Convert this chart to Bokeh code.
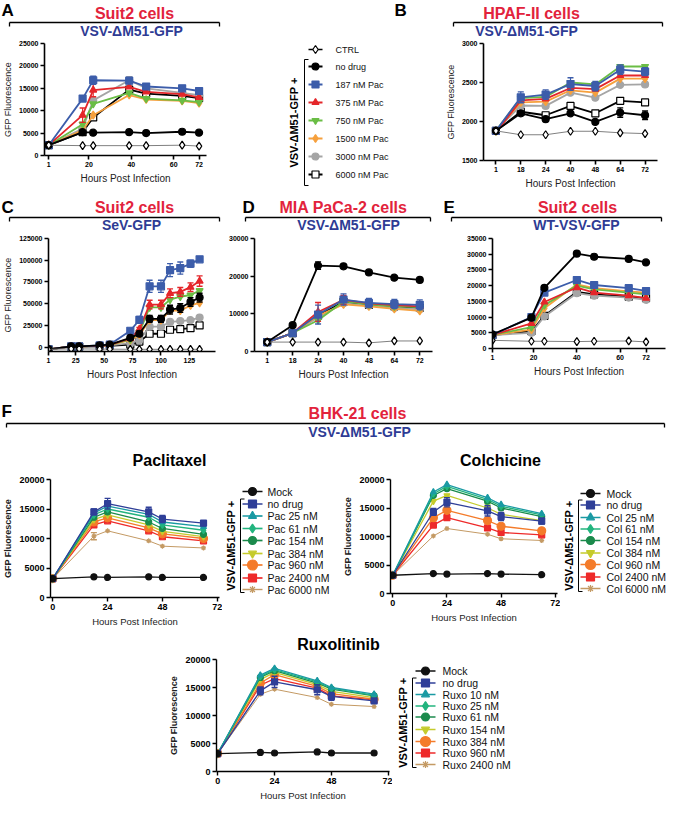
import math
from bokeh.plotting import figure
from bokeh.models import Range1d, FactorRange, FixedTicker, PrintfTickFormatter, Spacer
from bokeh.layouts import row, column
from bokeh.core.properties import value
from bokeh.embed import file_html
from bokeh.resources import INLINE

FONT = "Liberation Sans"
RED = "#E2233C"
BLUE = "#2E3B94"

# ---------------- data ----------------
# Panel A: Suit2 cells, VSV-dM51-GFP
A_HOURS = [1, 17, 22, 39, 47, 64, 72]
A_CTRL = [2300, 2200, 2200, 2200, 2200, 2300, 2100]
A_NODRUG = [2300, 5200, 5100, 5200, 5000, 5300, 5100]
A_P187 = [2300, 12700, 16800, 16700, 15400, 15000, 14400]
A_P375 = [2300, 9000, 14600, 15300, 14200, 13700, 13000]
A_P750 = [2300, 7000, 11500, 14000, 12700, 12300, 11900]
A_P1500 = [2300, 5600, 9000, 13500, 12500, 12200, 11700]
A_P3000 = [2300, 6000, 12300, 16800, 15000, 14000, 13500]
A_P6000 = [2300, 5200, 8500, 14700, 13800, 13300, 12800]
A_ERR_P187 = [0, 0, 900, 600, 400, 0, 0]
A_ERR_P375 = [0, 1600, 1500, 0, 0, 0, 0]
A_ERR_P3000 = [0, 0, 0, 800, 0, 0, 0]

# Panel B: HPAF-II cells, VSV-dM51-GFP
B_HOURS = ["1", "18", "24", "40", "48", "64", "72"]
B_CTRL = [1880, 1830, 1830, 1875, 1875, 1855, 1845]
B_NODRUG = [1880, 2105, 2030, 2105, 1995, 2115, 2080]
B_P187 = [1880, 2310, 2345, 2480, 2455, 2665, 2640]
B_P375 = [1860, 2270, 2290, 2430, 2415, 2590, 2590]
B_P750 = [1880, 2300, 2315, 2500, 2475, 2705, 2705]
B_P1500 = [1875, 2245, 2255, 2400, 2370, 2550, 2550]
B_P3000 = [1880, 2205, 2200, 2370, 2305, 2470, 2475]
B_P6000 = [1880, 2125, 2080, 2200, 2105, 2265, 2245]
B_ERR_P187 = [0, 70, 60, 80, 60, 60, 50]
B_ERR_NODRUG = [0, 0, 0, 0, 0, 60, 55]

# Panel C: Suit2 cells, SeV-GFP
C_HOURS = [1, 21, 28, 46, 55, 73, 81, 90, 100, 108, 117, 126, 134]
C_CTRL = [-2500, -2000, -2000, -2200, -2300, -2500, -2500, -2500, -2500, -2500, -2500, -2500, -2500]
C_NODRUG = [-2500, 1000, 1000, 2000, 2800, 10700, 15400, 32500, 32500, 43200, 45000, 52000, 57000]
C_P187 = [-2500, 800, 800, 2000, 3000, 18900, 31400, 70000, 70000, 88600, 91000, 96000, 101000]
C_P375 = [-2500, 800, 800, 1500, 2500, 10000, 20700, 49000, 49000, 62000, 63600, 69000, 76000]
C_P750 = [-2500, 800, 800, 1500, 2500, 9000, 17000, 45700, 45700, 54600, 58000, 60000, 65000]
C_P1500 = [-2500, 800, 800, 1500, 2500, 8000, 14000, 31000, 31000, 42000, 42000, 48000, 51000]
C_P3000 = [-2500, 500, 500, 1000, 2000, 4600, 8000, 23600, 23600, 29000, 30000, 31000, 34000]
C_P6000 = [-2500, 500, 500, 1000, 1500, 3000, 6400, 15400, 15400, 20000, 20700, 21800, 25000]
C_ERR_P187 = [0, 0, 0, 0, 0, 2500, 4000, 7000, 7000, 7500, 7000, 4000, 0]
C_ERR_P375 = [0, 0, 0, 0, 0, 0, 2000, 5000, 5000, 5000, 5000, 5000, 6000]
C_ERR_NODRUG = [0, 0, 0, 0, 0, 0, 3000, 4000, 4000, 5000, 5000, 5000, 5000]

# Panel D: MIA PaCa-2 cells, VSV-dM51-GFP
D_HOURS = ["1", "18", "24", "40", "48", "64", "72"]
D_CTRL = [2500, 2500, 2500, 2500, 2300, 2800, 2800]
D_NODRUG = [2500, 7000, 22800, 22600, 21000, 19600, 19000]
D_P187 = [2500, 4900, 9800, 13800, 12900, 12600, 12400]
D_P375 = [2500, 4900, 10500, 13700, 12800, 12300, 12000]
D_P750 = [2500, 4900, 8300, 13300, 12500, 12000, 11800]
D_P1500 = [2500, 4900, 9500, 12500, 12000, 11300, 10800]
D_P3000 = [2500, 4900, 9000, 12800, 12200, 11600, 11200]
D_P6000 = [2500, 4900, 9500, 13200, 12400, 12000, 11600]
D_ERR_NODRUG = [0, 0, 1000, 0, 0, 0, 0]
D_ERR_P187 = [0, 0, 2500, 1500, 1200, 1200, 1300]
D_ERR_P375 = [0, 0, 2500, 1200, 0, 0, 0]

# Panel E: Suit2 cells, WT-VSV-GFP
E_HOURS = [1, 19, 25, 40, 48, 64, 72]
E_CTRL = [2600, 2300, 2300, 2200, 2300, 2400, 2100]
E_NODRUG = [4500, 9800, 19300, 30200, 29200, 28500, 27400]
E_P187 = [4300, 10000, 17800, 21800, 20200, 19200, 18300]
E_P375 = [4300, 8000, 14800, 19400, 17800, 16800, 16000]
E_P750 = [4300, 6800, 13800, 20000, 18800, 17800, 17200]
E_P1500 = [4300, 6000, 12800, 20400, 19200, 18200, 17800]
E_P3000 = [4300, 5000, 10200, 17600, 16800, 16200, 15500]
E_P6000 = [4300, 5500, 10400, 18000, 17200, 16500, 16000]

TOP_LABELS = ["CTRL", "no drug", "187 nM Pac", "375 nM Pac", "750 nM Pac",
              "1500 nM Pac", "3000 nM Pac", "6000 nM Pac"]

# Panel F: BHK-21 cells, VSV-dM51-GFP
F_HOURS = [0, 18, 24, 42, 48, 66]
PAC_MOCK = [3200, 3500, 3400, 3500, 3400, 3400]
PAC_NODRUG = [3200, 14500, 15900, 14500, 13300, 12600]
PAC_25 = [3200, 14300, 15500, 14100, 12800, 12000]
PAC_61 = [3200, 14000, 15000, 13600, 12300, 11400]
PAC_154 = [3200, 13600, 14500, 12800, 11700, 10700]
PAC_384 = [3200, 13200, 14000, 12300, 11200, 10300]
PAC_960 = [3200, 12800, 13500, 11800, 10800, 10000]
PAC_2400 = [3200, 12300, 13000, 11300, 10300, 9600]
PAC_6000 = [3200, 10400, 11300, 9600, 8700, 8400]
PAC_ERR_NODRUG = [0, 500, 900, 800, 600, 400]
PAC_ERR_6000 = [0, 600, 0, 0, 0, 0]
PAC_LABELS = ["Mock", "no drug", "Pac 25 nM", "Pac 61 nM", "Pac 154 nM",
              "Pac 384 nM", "Pac 960 nM", "Pac 2400 nM", "Pac 6000 nM"]

COL_MOCK = [3200, 3500, 3400, 3500, 3400, 3300]
COL_NODRUG = [3200, 14300, 16000, 14500, 13500, 12700]
COL_25 = [3200, 17800, 19100, 16800, 15600, 14000]
COL_61 = [3200, 17500, 18800, 16500, 15300, 13800]
COL_154 = [3200, 17200, 18400, 16200, 15000, 13500]
COL_384 = [3200, 16200, 17200, 15000, 13900, 12800]
COL_960 = [3200, 13300, 14600, 12800, 11800, 11000]
COL_2400 = [3200, 12000, 13300, 11500, 10700, 10300]
COL_6000 = [3200, 10100, 11400, 10400, 9600, 9300]
COL_ERR_NODRUG = [0, 600, 800, 900, 700, 500]
COL_ERR_384 = [0, 0, 0, 700, 0, 0]
COL_LABELS = ["Mock", "no drug", "Col 25 nM", "Col 61 nM", "Col 154 nM",
              "Col 384 nM", "Col 960 nM", "Col 2400 nM", "Col 6000 nM"]

RUX_MOCK = [3200, 3400, 3300, 3500, 3300, 3300]
RUX_NODRUG = [3200, 14400, 16000, 14600, 13400, 12600]
RUX_10 = [3200, 17200, 18400, 16200, 15000, 13800]
RUX_25 = [3200, 17000, 18200, 16000, 14900, 13600]
RUX_61 = [3200, 16800, 18000, 15800, 14700, 13500]
RUX_154 = [3200, 16400, 17700, 15500, 14300, 13200]
RUX_384 = [3200, 15800, 17300, 15200, 13900, 12900]
RUX_960 = [3200, 15400, 16600, 14900, 13500, 12800]
RUX_2400 = [3200, 13800, 14700, 13200, 12000, 11600]
RUX_ERR_NODRUG = [0, 700, 1000, 900, 700, 400]
RUX_LABELS = ["Mock", "no drug", "Ruxo 10 nM", "Ruxo 25 nM", "Ruxo 61 nM",
              "Ruxo 154 nM", "Ruxo 384 nM", "Ruxo 960 nM", "Ruxo 2400 nM"]

# ---------------- styles ----------------
TOP_STYLE = [
    dict(marker="diamond", color="#000000", fill="#FFFFFF", line="#808080", lw=1.0, size=8),
    dict(marker="circle", color="#000000", fill="#000000", line="#000000", lw=1.8, size=7),
    dict(marker="square", color="#3C5DAA", fill="#3C5DAA", line="#3C5DAA", lw=1.8, size=7),
    dict(marker="triangle", color="#E4262A", fill="#E4262A", line="#E4262A", lw=1.8, size=7),
    dict(marker="inverted_triangle", color="#6ABD45", fill="#6ABD45", line="#6ABD45", lw=1.8, size=7),
    dict(marker="diamond", color="#F6A03D", fill="#F6A03D", line="#F6A03D", lw=1.8, size=8),
    dict(marker="circle", color="#A5A5A5", fill="#A5A5A5", line="#A5A5A5", lw=1.8, size=7),
    dict(marker="square", color="#000000", fill="#FFFFFF", line="#000000", lw=1.8, size=7),
]
F_STYLE = [
    dict(marker="circle", color="#111111", fill="#111111", line="#111111", lw=1.3, size=6),
    dict(marker="square", color="#2F3F98", fill="#2F3F98", line="#2F3F98", lw=1.3, size=6),
    dict(marker="triangle", color="#1A9AA3", fill="#1A9AA3", line="#1A9AA3", lw=1.3, size=6),
    dict(marker="diamond", color="#22B47E", fill="#22B47E", line="#22B47E", lw=1.3, size=7),
    dict(marker="circle", color="#1B8A4C", fill="#1B8A4C", line="#1B8A4C", lw=1.3, size=6),
    dict(marker="inverted_triangle", color="#C5CB2C", fill="#C5CB2C", line="#C5CB2C", lw=1.3, size=6),
    dict(marker="circle", color="#F47B2A", fill="#F47B2A", line="#F47B2A", lw=1.3, size=8),
    dict(marker="square", color="#EE2A2A", fill="#EE2A2A", line="#EE2A2A", lw=1.3, size=6),
    dict(marker="asterisk", color="#C49A64", fill="#C49A64", line="#C49A64", lw=1.0, size=5),
]


# ---------------- helpers ----------------
def deco_fig(w, h):
    p = figure(frame_width=w, frame_height=h, x_range=Range1d(0, w), y_range=Range1d(0, h),
               output_backend="svg", toolbar_location=None,
               x_axis_type=None, y_axis_type=None,
               min_border_left=0, min_border_right=0, min_border_top=0, min_border_bottom=0)
    p.outline_line_color = None
    p.title.visible = False
    return p


def put_text(p, h, x, yd, t, size, color="#000000", bold=True, align="left",
             baseline="middle", angle=0.0):
    p.text(x=[x], y=[h - yd], text=[t], text_font=value(FONT),
           text_font_size=value(f"{size}px"),
           text_font_style="bold" if bold else "normal", text_color=color,
           text_align=align, text_baseline=baseline, angle=angle)


def hbracket(p, h, x0, x1, yd, tick=4):
    p.segment(x0=[x0, x0, x1], y0=[h - yd] * 3, x1=[x1, x0, x1],
              y1=[h - yd, h - yd - tick, h - yd - tick], line_color="black", line_width=1.3)


def vbracket(p, h, x, yt, yb, tick=4):
    p.segment(x0=[x, x, x], y0=[h - yt, h - yt, h - yb], x1=[x, x + tick, x + tick],
              y1=[h - yb, h - yt, h - yb], line_color="black", line_width=1.0)


def legend_fig(w, h, labels, styles, rows, mx, tx, rot_x, bx, font, rot_font,
               top_off, bot_off, half=8, grow=0):
    p = deco_fig(w, h)
    for lab, st, yd in zip(labels, styles, rows):
        p.segment(x0=[mx - half], y0=[h - yd], x1=[mx + half], y1=[h - yd],
                  line_color=st["color"], line_width=st["lw"] + 0.4)
        p.scatter(x=[mx], y=[h - yd], marker=st["marker"], size=st["size"] + grow,
                  fill_color=st["fill"], line_color=st["color"], line_width=1.2)
        put_text(p, h, tx, yd, lab, font, color="#111111", bold=False)
    yt = rows[1] - top_off
    yb = rows[-1] + bot_off
    vbracket(p, h, bx, yt, yb)
    put_text(p, h, rot_x, (yt + yb) / 2, "VSV-ΔM51-GFP +", rot_font, bold=True,
             align="center", angle=math.pi / 2)
    return p


def plot_fig(ml, fw, mr, mt, fh, mb, xr, yr, xticks, yticks, tick_px, xlabel, ylabel,
             xl_px, yl_px, yl_bold=False, lw_axis=1.6):
    p = figure(frame_width=fw, frame_height=fh, x_range=xr, y_range=yr, output_backend="svg",
               toolbar_location=None,
               min_border_left=ml, min_border_right=mr,
               min_border_top=mt, min_border_bottom=mb)
    p.title.visible = False
    p.outline_line_color = None
    p.grid.visible = False
    if xticks is not None:
        p.xaxis.ticker = FixedTicker(ticks=xticks)
        p.xaxis.formatter = PrintfTickFormatter(format="%d")
    p.yaxis.ticker = FixedTicker(ticks=yticks)
    p.yaxis.formatter = PrintfTickFormatter(format="%d")
    for ax in (p.xaxis[0], p.yaxis[0]):
        ax.axis_line_color = "black"
        ax.axis_line_width = lw_axis
        ax.major_tick_line_color = "black"
        ax.major_tick_line_width = lw_axis
        ax.major_tick_out = 4
        ax.major_tick_in = 0
        ax.minor_tick_line_color = None
        ax.minor_tick_out = 0
        ax.major_label_text_font = FONT
        ax.major_label_text_font_size = f"{tick_px}px"
        ax.major_label_text_font_style = "bold"
        ax.major_label_text_color = "black"
        ax.major_label_standoff = 2
        ax.axis_label_text_font = FONT
        ax.axis_label_text_color = "#222222"
        ax.axis_label_standoff = 3
    if xlabel:
        p.xaxis[0].axis_label = xlabel
        p.xaxis[0].axis_label_text_font_size = f"{xl_px}px"
        p.xaxis[0].axis_label_text_font_style = "normal"
    if ylabel:
        p.yaxis[0].axis_label = ylabel
        p.yaxis[0].axis_label_text_font_size = f"{yl_px}px"
        p.yaxis[0].axis_label_text_font_style = "bold" if yl_bold else "normal"
    return p


def draw_series(p, xs, ys, st, err=None):
    p.line(xs, ys, line_color=st["line"], line_width=st["lw"])
    if err is not None:
        ex = [x for x, e in zip(xs, err) if e > 0]
        lo = [y - e for y, e in zip(ys, err) if e > 0]
        hi = [y + e for y, e in zip(ys, err) if e > 0]
        if ex:
            p.segment(x0=ex, y0=lo, x1=ex, y1=hi, line_color=st["color"], line_width=1.2)
            p.scatter(x=ex + ex, y=hi + lo, marker="dash", size=6,
                      line_color=st["color"], line_width=1.4)
    p.scatter(xs, ys, marker=st["marker"], size=st["size"], fill_color=st["fill"],
              line_color=st["color"], line_width=1.2)


def draw_panel(p, xs, series, styles, errs):
    for i in reversed(range(len(series))):
        draw_series(p, xs, series[i], styles[i], errs.get(i))


# ---------------- row 1 ----------------
s1h = 39
strip1 = deco_fig(666, s1h)
put_text(strip1, s1h, 1, 0, "A", 17, baseline="top")
put_text(strip1, s1h, 134, 13, "Suit2 cells", 16, color=RED, align="center")
hbracket(strip1, s1h, 9, 219, 22)
put_text(strip1, s1h, 131, 30, "VSV-ΔM51-GFP", 14, color=BLUE, align="center")
put_text(strip1, s1h, 394, 0, "B", 17, baseline="top")
put_text(strip1, s1h, 531, 13, "HPAF-II cells", 16, color=RED, align="center")
hbracket(strip1, s1h, 453, 662, 22)
put_text(strip1, s1h, 526, 30, "VSV-ΔM51-GFP", 14, color=BLUE, align="center")

pA = plot_fig(43, 162, 13, 4, 112, 36, Range1d(-1, 75.5), Range1d(0, 25000),
              [1, 20, 40, 60, 72], [0, 5000, 10000, 15000, 20000, 25000], 7,
              "Hours Post Infection", "GFP Fluorescence", 10, 9)
draw_panel(pA, A_HOURS, [A_CTRL, A_NODRUG, A_P187, A_P375, A_P750, A_P1500, A_P3000, A_P6000],
           TOP_STYLE, {2: A_ERR_P187, 3: A_ERR_P375, 6: A_ERR_P3000})

legTop = legend_fig(172, 152, TOP_LABELS, TOP_STYLE, [6, 23, 41, 59, 77, 95, 113, 131],
                    96, 116, 74, 85, 9, 11, 7, 11, half=7)

pB = plot_fig(92, 174, 10, 4, 117, 31, FactorRange(factors=B_HOURS), Range1d(1500, 3000),
              None, [1500, 2000, 2500, 3000], 7,
              "Hours Post Infection", "GFP Fluorescence", 10, 9)
draw_panel(pB, B_HOURS, [B_CTRL, B_NODRUG, B_P187, B_P375, B_P750, B_P1500, B_P3000, B_P6000],
           TOP_STYLE, {1: B_ERR_NODRUG, 2: B_ERR_P187})

# ---------------- row 2 ----------------
s2h = 42
strip2 = deco_fig(666, s2h)
put_text(strip2, s2h, 1, 6, "C", 17, baseline="top")
put_text(strip2, s2h, 134, 16, "Suit2 cells", 16, color=RED, align="center")
hbracket(strip2, s2h, 9, 219, 26)
put_text(strip2, s2h, 131, 33, "SeV-GFP", 14, color=BLUE, align="center")
put_text(strip2, s2h, 242, 6, "D", 17, baseline="top")
put_text(strip2, s2h, 343, 16, "MIA PaCa-2 cells", 16, color=RED, align="center")
hbracket(strip2, s2h, 245, 430, 26)
put_text(strip2, s2h, 348, 33, "VSV-ΔM51-GFP", 14, color=BLUE, align="center")
put_text(strip2, s2h, 443, 6, "E", 17, baseline="top")
put_text(strip2, s2h, 577, 16, "Suit2 cells", 16, color=RED, align="center")
hbracket(strip2, s2h, 451, 661, 26)
put_text(strip2, s2h, 576, 33, "WT-VSV-GFP", 14, color=BLUE, align="center")

pC = plot_fig(45, 167, 6, 4, 113, 33, Range1d(1, 148), Range1d(-5000, 125000),
              [1, 25, 50, 75, 100, 125], [0, 25000, 50000, 75000, 100000, 125000], 7,
              "Hours Post Infection", "GFP Fluorescence", 10, 9)
draw_panel(pC, C_HOURS, [C_CTRL, C_NODRUG, C_P187, C_P375, C_P750, C_P1500, C_P3000, C_P6000],
           TOP_STYLE, {1: C_ERR_NODRUG, 2: C_ERR_P187, 3: C_ERR_P375})

pD = plot_fig(33, 178, 7, 5, 113, 32, FactorRange(factors=D_HOURS), Range1d(0, 30000),
              None, [0, 10000, 20000, 30000], 7,
              "Hours Post Infection", None, 10, 9)
draw_panel(pD, D_HOURS, [D_CTRL, D_NODRUG, D_P187, D_P375, D_P750, D_P1500, D_P3000, D_P6000],
           TOP_STYLE, {1: D_ERR_NODRUG, 2: D_ERR_P187, 3: D_ERR_P375})

pE = plot_fig(53, 173, 4, 5, 110, 35, Range1d(1, 81), Range1d(0, 35000),
              [1, 20, 40, 60, 72], [0, 5000, 10000, 15000, 20000, 25000, 30000, 35000], 7,
              "Hours Post Infection", None, 10, 9)
draw_panel(pE, E_HOURS, [E_CTRL, E_NODRUG, E_P187, E_P375, E_P750, E_P1500, E_P3000, E_P6000],
           TOP_STYLE, {})

# ---------------- panel F ----------------
sFh = 88
stripF = deco_fig(666, sFh)
put_text(stripF, sFh, 1, 18, "F", 17, baseline="top")
put_text(stripF, sFh, 357, 30, "BHK-21 cells", 16, color=RED, align="center")
hbracket(stripF, sFh, 6, 664, 40)
put_text(stripF, sFh, 359, 48, "VSV-ΔM51-GFP", 14, color=BLUE, align="center")
put_text(stripF, sFh, 169, 77, "Paclitaxel", 16, align="center")
put_text(stripF, sFh, 500, 77, "Colchicine", 16, align="center")

F_YT = [0, 5000, 10000, 15000, 20000]
pPac = plot_fig(47, 169, 3, 4, 118, 33, Range1d(-1, 73), Range1d(0, 20000),
                [0, 24, 48, 72], F_YT, 9, "Hours Post Infection", "GFP Fluorescence",
                9.5, 9, yl_bold=True, lw_axis=1.4)
draw_panel(pPac, F_HOURS, [PAC_MOCK, PAC_NODRUG, PAC_25, PAC_61, PAC_154, PAC_384, PAC_960,
                           PAC_2400, PAC_6000], F_STYLE, {1: PAC_ERR_NODRUG, 8: PAC_ERR_6000})
legPac = legend_fig(118, 155, PAC_LABELS, F_STYLE,
                    [12, 24.5, 36.5, 49, 61, 74, 85.5, 98.5, 110], 30, 45, 8, 18, 10.5, 11, 5, 3,
                    half=10, grow=2)

pCol = plot_fig(49, 167, 3, 8, 114, 33, Range1d(-1, 73), Range1d(0, 20000),
                [0, 24, 48, 72], F_YT, 9, "Hours Post Infection", "GFP Fluorescence",
                9.5, 9, yl_bold=True, lw_axis=1.4)
draw_panel(pCol, F_HOURS, [COL_MOCK, COL_NODRUG, COL_25, COL_61, COL_154, COL_384, COL_960,
                           COL_2400, COL_6000], F_STYLE, {1: COL_ERR_NODRUG, 5: COL_ERR_384})
legCol = legend_fig(110, 155, COL_LABELS, F_STYLE,
                    [14, 25.5, 38, 49.5, 61, 73.5, 85, 97.5, 109], 30, 46, 8, 18, 10.5, 11, 5, 3,
                    half=10, grow=2)

s3h = 29
strip3 = deco_fig(666, s3h)
put_text(strip3, s3h, 338, 18, "Ruxolitinib", 16, align="center")

pRux = plot_fig(66, 173, 3, 4, 112, 33, Range1d(-0.5, 72.5), Range1d(0, 20000),
                [0, 24, 48, 72], F_YT, 9, "Hours Post Infection", "GFP Fluorescence",
                9.5, 9, yl_bold=True, lw_axis=1.4)
draw_panel(pRux, F_HOURS, [RUX_MOCK, RUX_NODRUG, RUX_10, RUX_25, RUX_61, RUX_154, RUX_384,
                           RUX_960, RUX_2400], F_STYLE, {1: RUX_ERR_NODRUG})
legRux = legend_fig(128, 149, RUX_LABELS, F_STYLE,
                    [11.5, 23.5, 35, 46.5, 57.5, 70, 82, 93.5, 105], 33, 50, 10, 20, 10.5, 11, 5, 3,
                    half=10, grow=2)

page = column(
    strip1,
    row(pA, legTop, pB),
    strip2,
    row(pC, pD, pE),
    stripF,
    row(pPac, legPac, pCol, legCol),
    strip3,
    row(Spacer(width=150, height=149), pRux, legRux),
)

open("out.html", "w").write(file_html(page, INLINE))
